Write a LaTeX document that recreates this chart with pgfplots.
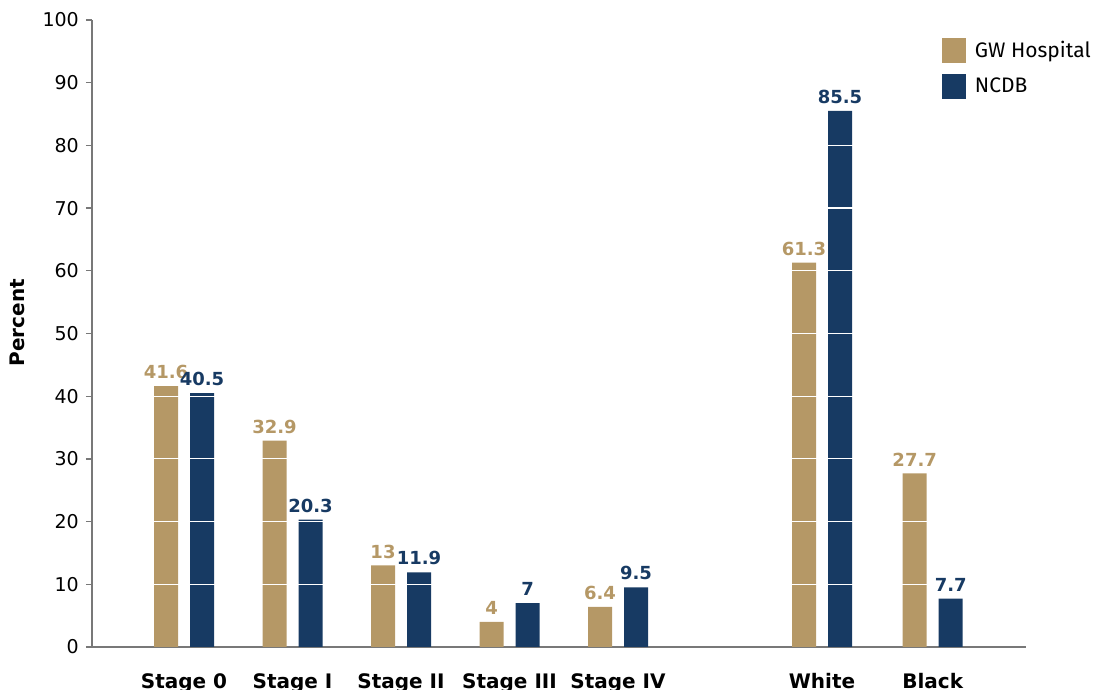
\documentclass[border=0pt]{standalone}
\usepackage{fontspec}
\setmainfont{DejaVu Sans}
\newfontfamily\legfont{Fira Sans}
\usepackage{pgfplots}
\usepackage{pgfplotstable}
\pgfplotsset{compat=1.18}

\definecolor{gwgold}{RGB}{181,152,102}
\definecolor{ncdbnavy}{RGB}{23,58,99}
\definecolor{axisgray}{RGB}{120,120,120}

% stage and race distribution (percent)
\pgfplotstableread{
x    gw   ncdb
0    41.6 40.5
1    32.9 20.3
2    13   11.9
3    4    7
4    6.4  9.5
5.88 61.3 85.5
6.9  27.7 7.7
}\datatable

\begin{document}
\begin{tikzpicture}
\begin{axis}[
  name=ax,
  scale only axis, width=934pt, height=627pt,
  xmin=-0.848, xmax=7.76, ymin=0, ymax=100,
  axis x line*=bottom, axis y line*=left,
  axis line style={axisgray, line width=1.3pt},
  /pgf/number format/assume math mode=true,
  ytick={0,10,...,100},
  xtick={0,1,2,3,4,5.88,6.9},
  xticklabels={Stage 0, Stage I, Stage II, Stage III, Stage IV, White, Black},
  x tick label style={font=\fontsize{20}{20}\selectfont\bfseries, anchor=north, inner sep=0pt, yshift=-20pt},
  xtick style={draw=none},
  y tick label style={font=\fontsize{19}{19}\selectfont, inner sep=0pt, xshift=-7pt},
  ytick style={axisgray, line width=1.3pt},
  tick align=outside, major tick length=6pt,
  ylabel={Percent},
  every axis y label/.style={at={(axis description cs:0,0.517)}, xshift=-75pt, rotate=90, anchor=center, font=\fontsize{20}{20}\selectfont\bfseries},
  ybar, bar width=24pt,
  legend style={at={(rel axis cs:0.910,0.9713)}, anchor=north west, draw=none, fill=none,
    font=\legfont\fontsize{21}{21}\selectfont, row sep=11pt, column sep=9pt, inner sep=0pt, outer sep=0pt,
    nodes={inner sep=0pt}},
  legend cell align=left,
  legend image code/.code={\fill[#1] (0pt,-13pt) rectangle (24pt,12pt);},
]
\addplot[fill=gwgold, draw=none, bar shift=-18pt] table[x=x, y=gw] {\datatable};
\addplot[fill=ncdbnavy, draw=none, bar shift=18pt] table[x=x, y=ncdb] {\datatable};
\legend{GW Hospital, NCDB}

% white guide lines running across the bars
\pgfplotsinvokeforeach{10,20,30,40,50,60,70,80,90}{
  \draw[white, line width=1.2pt] (axis cs:-0.8,#1) -- (axis cs:7.7,#1);
}

% value labels above the bars
\addplot[draw=none, fill=none, bar shift=-18pt, forget plot,
  nodes near coords,
  nodes near coords style={text=gwgold, font=\fontsize{18}{18}\selectfont\bfseries, anchor=south, inner sep=0pt, yshift=7pt}]
  table[x=x, y=gw] {\datatable};
\addplot[draw=none, fill=none, bar shift=18pt, forget plot,
  nodes near coords,
  nodes near coords style={text=ncdbnavy, font=\fontsize{18}{18}\selectfont\bfseries, anchor=south, inner sep=0pt, yshift=7pt}]
  table[x=x, y=ncdb] {\datatable};
\end{axis}
\pgfresetboundingbox
\useasboundingbox ([shift={(-92pt,-43pt)}]ax.south west) rectangle ([shift={(80pt,20pt)}]ax.north east);
\end{tikzpicture}
\end{document}
